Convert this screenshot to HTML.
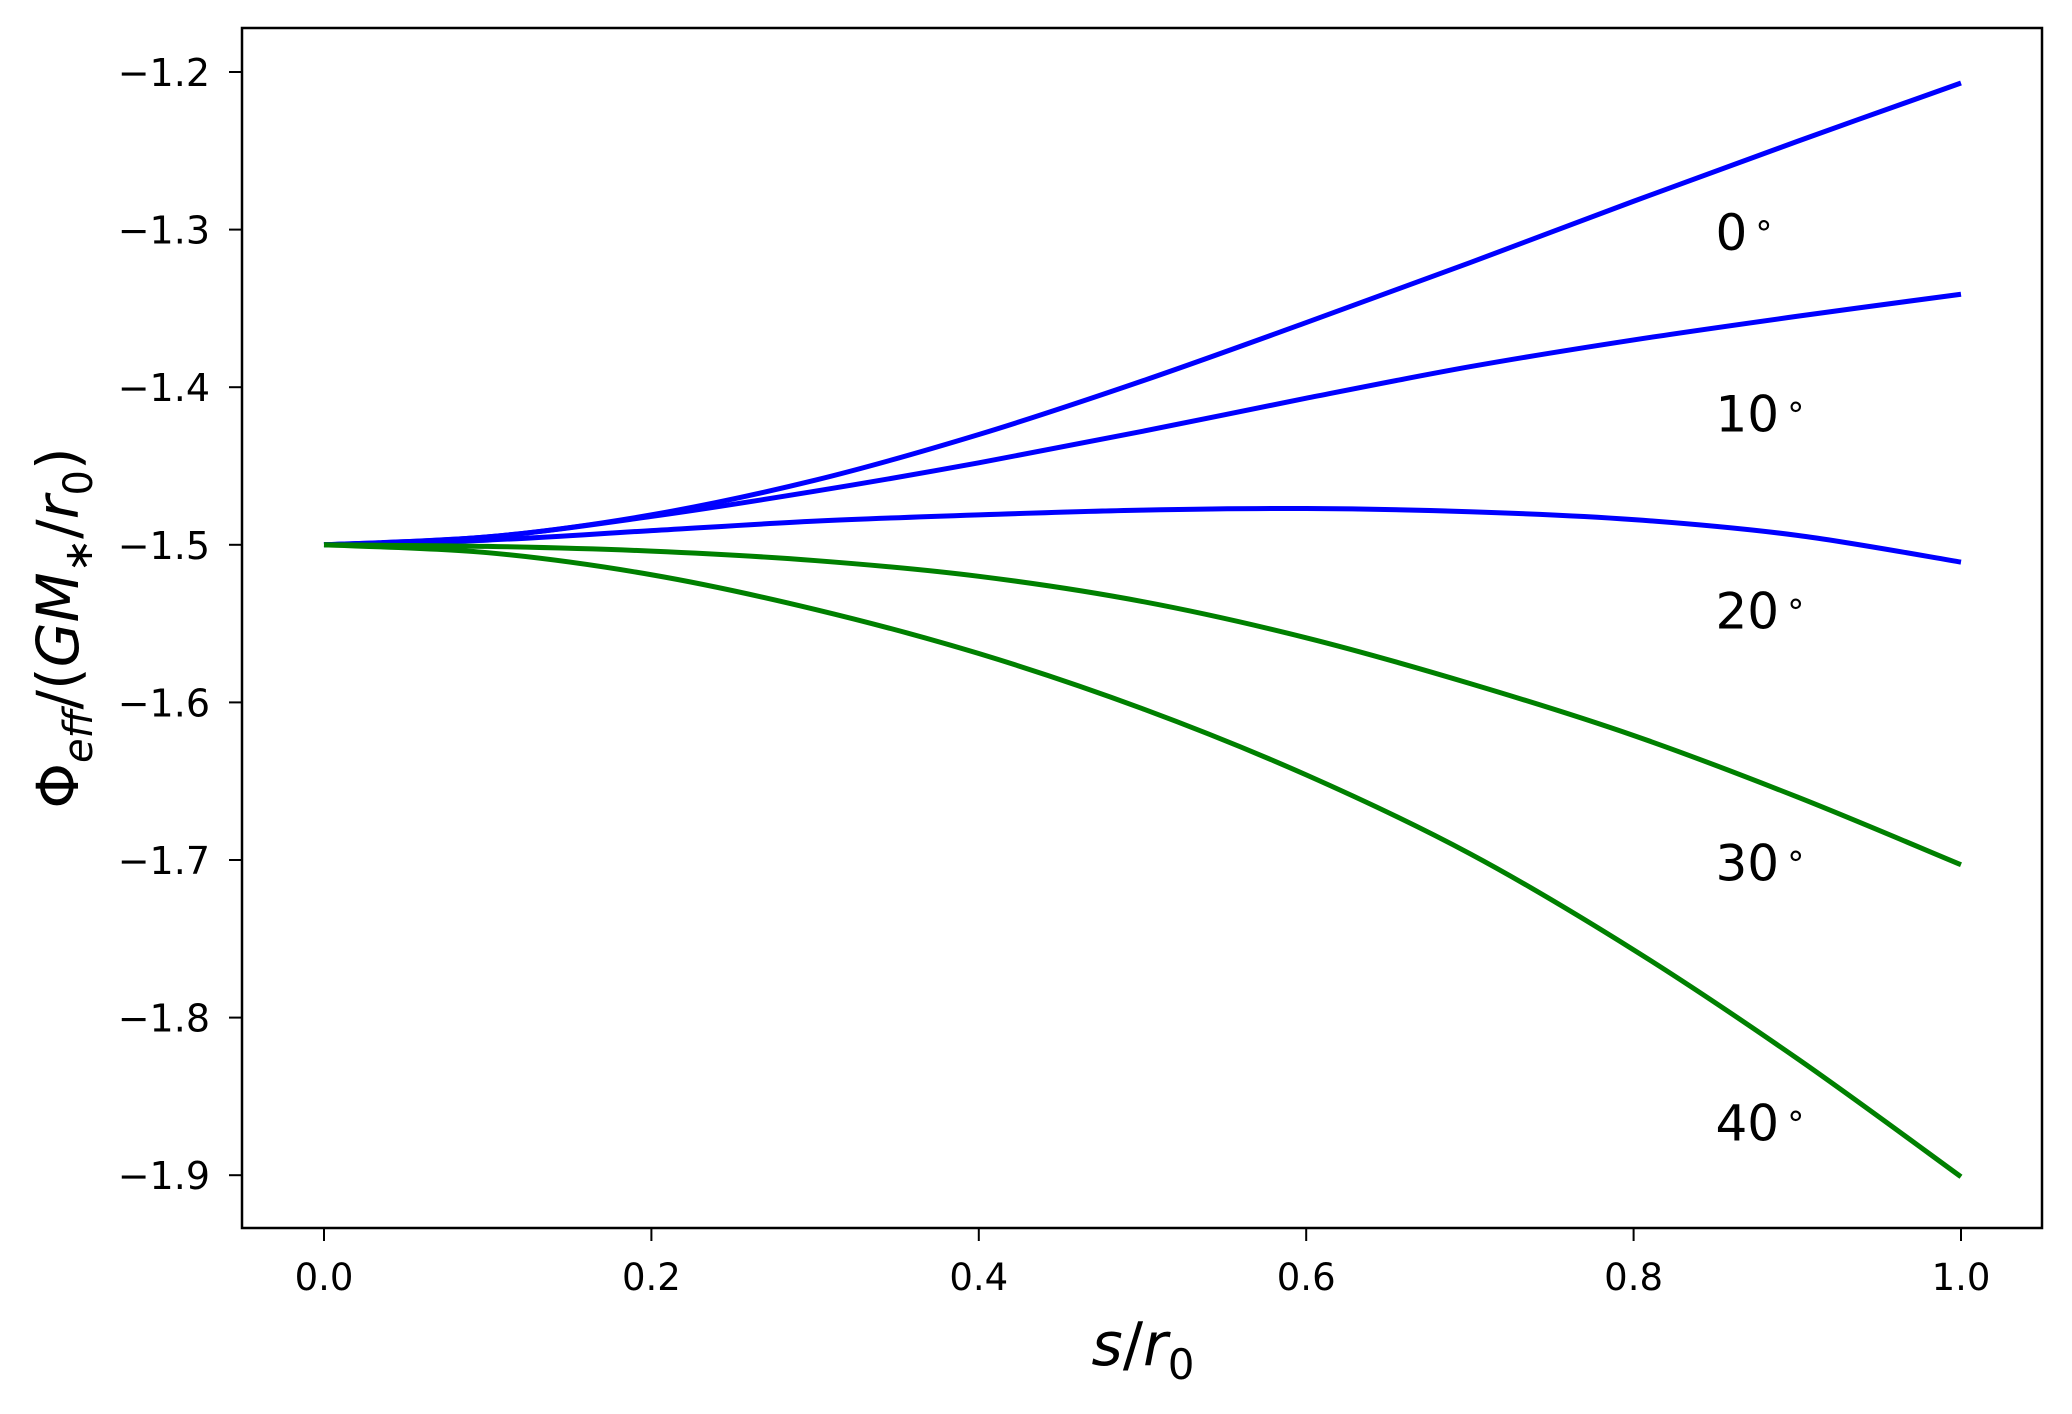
<!DOCTYPE html>
<html><head><meta charset="utf-8"><style>
html,body{margin:0;padding:0;background:#fff;}
svg text{font-family:"DejaVu Sans","Liberation Sans",sans-serif;fill:#000;}
</style></head><body>
<svg id="chart" width="2072" height="1409" viewBox="0 0 2072 1409" xmlns="http://www.w3.org/2000/svg">
<rect x="0" y="0" width="2072" height="1409" fill="#fff"/>
<g id="plot"></g>
<rect x="242" y="28" width="1800" height="1200" fill="none" stroke="#000" stroke-width="2.5"/>
<g id="xticks"></g>
<g id="yticks"></g>
<text x="1143" y="1365" font-size="60" text-anchor="middle"><tspan font-style="italic">s</tspan><tspan>/</tspan><tspan font-style="italic">r</tspan><tspan font-size="42" dy="14">0</tspan></text>
<text transform="translate(78,628) rotate(-90)" font-size="58" text-anchor="middle"><tspan>Φ</tspan><tspan font-style="italic" font-size="40" dy="14">eff</tspan><tspan dy="-14">/(</tspan><tspan font-style="italic">GM</tspan><tspan font-size="40" dy="14">∗</tspan><tspan dy="-14">/</tspan><tspan font-style="italic">r</tspan><tspan font-size="40" dy="14">0</tspan><tspan dy="-14">)</tspan></text>
</svg>
<script>
const xs = [0,0.1,0.2,0.3,0.4,0.5,0.6,0.7,0.8,0.9,1.0];
const s0 = [-1.5,-1.495,-1.481,-1.459,-1.430,-1.396,-1.359,-1.321,-1.282,-1.244,-1.207];
const s10 = [-1.5,-1.495,-1.482,-1.466,-1.448,-1.428,-1.407,-1.387,-1.370,-1.355,-1.341];
const s20 = [-1.5,-1.497,-1.491,-1.485,-1.481,-1.478,-1.477,-1.479,-1.484,-1.494,-1.511];
const s30 = [-1.5,-1.501,-1.504,-1.510,-1.520,-1.536,-1.559,-1.588,-1.621,-1.660,-1.703];
const s40 = [-1.5,-1.505,-1.519,-1.541,-1.569,-1.604,-1.646,-1.696,-1.757,-1.826,-1.901];
const labels = ["0","10","20","30","40"];
const labelY = [-1.313,-1.428,-1.553,-1.713,-1.878];
const labelX = 0.85;
const xTickVals = [0,0.2,0.4,0.6,0.8,1.0];
const xTickLabels = ["0.0","0.2","0.4","0.6","0.8","1.0"];
const yTickVals = [-1.2,-1.3,-1.4,-1.5,-1.6,-1.7,-1.8,-1.9];
const yTickLabels = ["\u22121.2","\u22121.3","\u22121.4","\u22121.5","\u22121.6","\u22121.7","\u22121.8","\u22121.9"];

const NS="http://www.w3.org/2000/svg";
function X(v){return 324+v*1637;}
function Y(v){return 72+(-1.2-v)*1576;}
const series=[s0,s10,s20,s30,s40];
const colors=["#0000ff","#0000ff","#0000ff","#008000","#008000"];
const plot=document.getElementById('plot');
series.forEach((s,k)=>{
  const P=xs.map((x,i)=>[X(x),Y(s[i])]);
  let d="M"+P[0][0]+","+P[0][1];
  for(let i=0;i<P.length-1;i++){
    const p0=P[Math.max(0,i-1)],p1=P[i],p2=P[i+1],p3=P[Math.min(P.length-1,i+2)];
    const c1=[p1[0]+(p2[0]-p0[0])/6,p1[1]+(p2[1]-p0[1])/6];
    const c2=[p2[0]-(p3[0]-p1[0])/6,p2[1]-(p3[1]-p1[1])/6];
    d+=" C"+c1+" "+c2+" "+p2;
  }
  const path=document.createElementNS(NS,'path');
  path.setAttribute('d',d);
  path.setAttribute('fill','none');
  path.setAttribute('stroke',colors[k]);
  path.setAttribute('stroke-width','5');
  
  
  plot.appendChild(path);
  const t=document.createElementNS(NS,'text');
  t.setAttribute('x',X(labelX));
  t.setAttribute('y',Y(labelY[k]));
  t.setAttribute('font-size','50');
  
  
  t.innerHTML=labels[k]+'<tspan font-size="34" dx="6" dy="-14">\u2218</tspan>';
  plot.appendChild(t);
});
const xg=document.getElementById('xticks');
xTickVals.forEach((v,i)=>{
  const l=document.createElementNS(NS,'line');
  l.setAttribute('x1',X(v));l.setAttribute('x2',X(v));
  l.setAttribute('y1',1228);l.setAttribute('y2',1241);
  l.setAttribute('stroke','#000');l.setAttribute('stroke-width','2');
  
  
  xg.appendChild(l);
  const t=document.createElementNS(NS,'text');
  t.setAttribute('x',X(v));t.setAttribute('y',1290);
  t.setAttribute('font-size','37');t.setAttribute('text-anchor','middle');
  
  
  t.textContent=xTickLabels[i];
  xg.appendChild(t);
});
const yg=document.getElementById('yticks');
yTickVals.forEach((v,i)=>{
  const l=document.createElementNS(NS,'line');
  l.setAttribute('x1',229);l.setAttribute('x2',242);
  l.setAttribute('y1',Y(v));l.setAttribute('y2',Y(v));
  l.setAttribute('stroke','#000');l.setAttribute('stroke-width','2');
  
  
  yg.appendChild(l);
  const t=document.createElementNS(NS,'text');
  t.setAttribute('x',210);t.setAttribute('y',Y(v)+14);
  t.setAttribute('font-size','38');t.setAttribute('text-anchor','end');
  
  
  t.textContent=yTickLabels[i];
  yg.appendChild(t);
});
</script>
</body></html>
